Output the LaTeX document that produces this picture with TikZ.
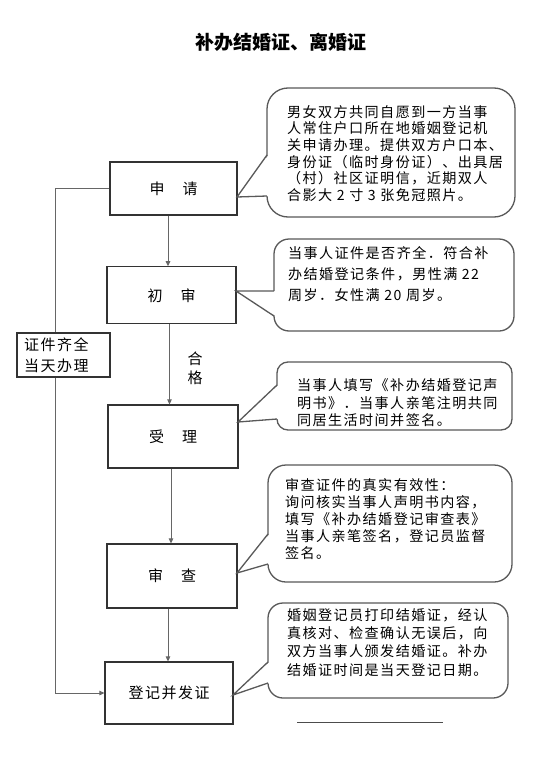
\documentclass[tikz,border=0pt]{standalone}
\usepackage{fontspec}
\setmainfont{Noto Sans CJK SC}
\newfontfamily\cjk[LetterSpace=10]{Noto Sans CJK SC}
\usetikzlibrary{arrows.meta}
\begin{document}
\begin{tikzpicture}[x=1pt,y=-1pt,
  stepbox/.style={draw=black!80,line width=1.2pt,fill=white,inner sep=0pt,font=\cjk\fontsize{15}{18}\selectfont},
  conn/.style={draw=black!60,line width=1pt},
  arr/.style={conn,-{Triangle[length=5pt,width=4.5pt]}},
  bubble/.style={draw=black!65,line width=1.3pt,fill=white,rounded corners=#1,inner sep=0pt},
  bline/.style={draw=black!65,line width=1.3pt,line join=miter},
  btext/.style={inner sep=0pt,align=left,anchor=west,font=\cjk\fontsize{14.1}{#1}\selectfont},
]
\useasboundingbox[fill=white] (0,0) rectangle (547,771);
\node[font=\bfseries\fontsize{19}{22}\selectfont] (title) at (281,42) {补办结婚证、离婚证};

% main boxes
\node[stepbox,minimum width=127pt,minimum height=53pt] (sq) at (173.5,188.5) {申　请};
\node[stepbox,minimum width=129pt,minimum height=57pt] (cs) at (171.5,295.3) {初　审};
\node[stepbox,minimum width=130pt,minimum height=63pt] (sl) at (173,436.5) {受　理};
\node[stepbox,minimum width=130pt,minimum height=64pt] (sc) at (172,576) {审　查};
\node[stepbox,minimum width=128pt,minimum height=62pt] (dj) at (169,693) {登记并发证};
\node[stepbox,minimum height=44pt,text width=79pt,inner xsep=7pt,align=left,font=\cjk\fontsize{15}{21.5}\selectfont] (zj) at (63.5,355) {证件齐全\\当天办理};

% vertical arrows
\coordinate (x1) at (168,0);
\coordinate (x2) at (169.5,0);
\coordinate (x3) at (171,0);
\coordinate (x4) at (168,0);
\coordinate (lx) at (55,0);
\draw[arr] (sq.south -| x1) -- (cs.north -| x1);
\draw[arr] (cs.south -| x2) -- (sl.north -| x2);
\draw[arr] (sl.south -| x3) -- (sc.north -| x3);
\draw[arr] (sc.south -| x4) -- (dj.north -| x4);
\node[font=\cjk\fontsize{15}{19}\selectfont,align=center,inner sep=0pt] (hg) at (195,368) {合\\格};

% left loop
\draw[conn] (sq.west) -| (zj.north -| lx);
\draw[arr] (zj.south -| lx) |- (dj.west);

% bubbles
\node[bubble=21pt,minimum width=248pt,minimum height=129pt] (b1) at (391,152.5) {};
\node[bubble=15pt,minimum width=240pt,minimum height=92pt] (b2) at (394,285) {};
\node[bubble=11pt,minimum width=235pt,minimum height=68pt] (b3) at (394.5,396) {};
\node[bubble=18pt,minimum width=244pt,minimum height=117pt] (b4) at (390,523.5) {};
\node[bubble=15pt,minimum width=240pt,minimum height=95pt] (b5) at (388,650.5) {};

\coordinate (t1) at (237,197); \coordinate (u1) at (267,155); \coordinate (l1) at (267,196);
\coordinate (t2) at (236,291); \coordinate (u2) at (274,291); \coordinate (l2) at (274,316);
\coordinate (t3) at (238,422); \coordinate (u3) at (277,385); \coordinate (l3) at (277,419);
\coordinate (t4) at (237,573); \coordinate (u4) at (268,534); \coordinate (l4) at (268,564);
\coordinate (t5) at (233,695); \coordinate (u5) at (268,662); \coordinate (l5) at (268,683);

\foreach \i in {1,...,5}{
  \fill[white] (t\i) -- ([xshift=1.5pt]u\i) -- ([xshift=1.5pt]l\i) -- cycle;
  \draw[bline] (u\i) -- (t\i) -- (l\i);
}

% bubble texts
\node[btext=16.6] (tx1) at (287,153.5) {男女双方共同自愿到一方当事\\人常住户口所在地婚姻登记机\\关申请办理。提供双方户口本、\\身份证（临时身份证）、出具居\\（村）社区证明信，近期双人\\合影大 2 寸 3 张免冠照片。};
\node[btext=21] (tx2) at (288,274) {当事人证件是否齐全．符合补\\办结婚登记条件，男性满 22\\周岁．女性满 20 周岁。};
\node[btext=17.5] (tx3) at (297,402.7) {当事人填写《补办结婚登记声\\明书》．当事人亲笔注明共同\\同居生活时间并签名。};
\node[btext=17] (tx4) at (285,519) {审查证件的真实有效性：\\询问核实当事人声明书内容，\\填写《补办结婚登记审查表》\\当事人亲笔签名，登记员监督\\签名。};
\node[btext=18.3] (tx5) at (287,642.5) {婚姻登记员打印结婚证，经认\\真核对、检查确认无误后，向\\双方当事人颁发结婚证。补办\\结婚证时间是当天登记日期。};

% bottom rule
\coordinate (r1) at (297,722); \coordinate (r2) at (443,722);
\draw[line width=1pt,black!70] (r1) -- (r2);
\end{tikzpicture}
\end{document}
